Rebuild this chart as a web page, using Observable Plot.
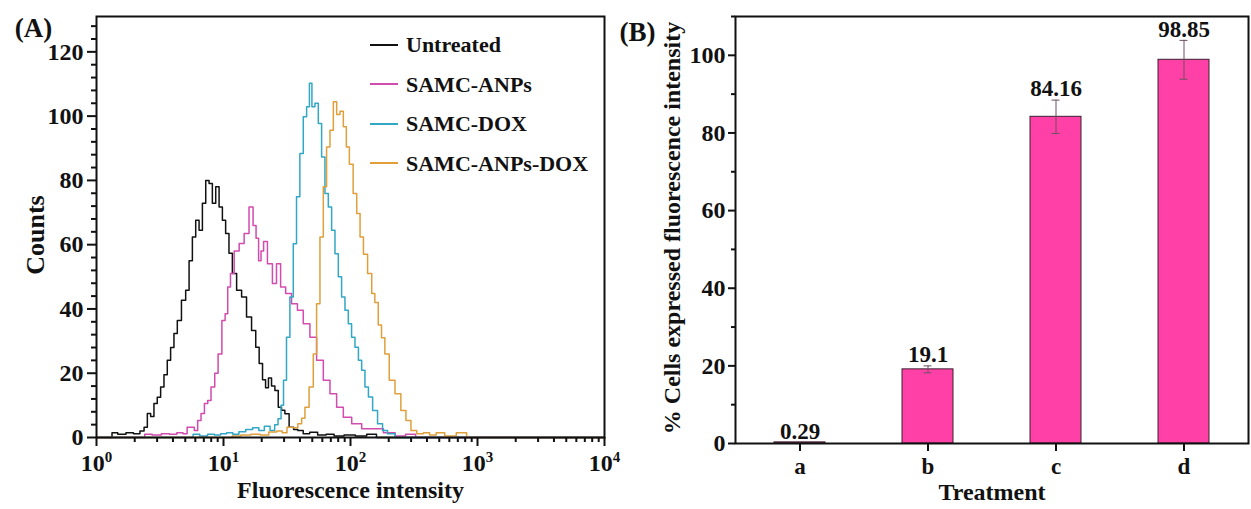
<!DOCTYPE html>
<html>
<head>
<meta charset="utf-8">
<script src="https://cdn.jsdelivr.net/npm/d3@7"></script>
<script src="https://cdn.jsdelivr.net/npm/@observablehq/plot@0.6"></script>
<style>
  body { margin: 0; background: #fff; }
  #wrap { position: relative; width: 1251px; height: 509px; overflow: hidden; background: #fff; font-family: "Liberation Serif", "Times New Roman", serif; font-weight: bold; }
  #wrap > div.p { position: absolute; top: 0; }
  .leg { position: absolute; left: 370px; font-size: 22px; color: #111; line-height: 28px; white-space: nowrap; }
  .leg span.sw { display: inline-block; width: 28px; height: 0; border-top: 2px solid; vertical-align: middle; margin-right: 8px; position: relative; top: -2px; }
</style>
</head>
<body>
<div id="wrap">
  <div class="p" id="pb" style="left:610px"></div>
  <div class="p" id="pa" style="left:0"></div>
</div>
<script>
// ---------- Panel A: flow cytometry histograms ([fluorescence intensity, counts]) ----------
const seriesNames = ["Untreated", "SAMC-ANPs", "SAMC-DOX", "SAMC-ANPs-DOX"];
const seriesColors = ["#111111", "#d24bae", "#32a7c6", "#dfa03c"];

const untreated = [[1,0],[1.3,0],[1.35,1.5],[1.6,1],[1.82,1.5],[2.1,1.2],[2.3,2],[2.44,3.2],[2.59,7.5],[2.75,6.5],[2.92,10.6],[3.1,12.5],[3.3,15.7],[3.5,19.5],[3.72,24],[3.95,28],[4.2,32.4],[4.46,36.4],[4.88,42.7],[5.2,45.8],[5.52,55],[5.86,62.4],[6.23,67.6],[6.62,64.5],[7.03,72.9],[7.47,80],[7.93,79],[8.42,72.9],[8.96,78],[9.51,71.7],[10.1,67.6],[10.7,63.5],[11.4,57.3],[12.1,51],[13.3,45.8],[14.5,43.7],[15.9,37.5],[17.4,33.3],[18.5,28.1],[19.7,23],[20.9,18],[22,15.5],[23.2,18.5],[24.6,16],[26.2,14.6],[27.8,9.4],[29.5,8.5],[31.4,7.4],[34.4,3.2],[37,2.5],[40,2.2],[45,1.2],[50.6,1.6],[60,0.8],[68.9,1],[80,0.5],[99,0.8],[120,0.5],[150,1],[171,0],[10000,0]];

const samcAnps = [[1,0],[2.3,0],[2.5,1],[3,0.8],[3.5,1.2],[4,1],[4.6,1.5],[5,1.2],[5.35,3.2],[5.75,3.2],[6.04,2.2],[6.49,5.3],[6.82,7.5],[7.34,10.6],[7.69,11.5],[8.27,15.7],[8.8,20],[9.34,26],[10.1,36.4],[10.5,38.5],[11.1,46.8],[11.6,51],[12.7,58],[13.9,60.4],[15.2,63.5],[16.6,71.7],[17.6,66],[18.5,62],[19.3,55],[20.2,58],[21.2,61],[23.2,54.1],[25.4,47.9],[26.9,54.1],[29.5,46.8],[32.3,44.8],[36.5,41.6],[40,39.6],[45.1,35.4],[50.9,31.2],[57.5,24],[64.9,17.8],[73.2,13.6],[82.6,9.4],[93.3,6.3],[112,4.3],[134,2.7],[161,2.7],[205,1.5],[246,0.5],[300,1],[353,0],[10000,0]];

const samcDox = [[1,0],[5.5,0],[6.04,1],[7,0.5],[8,1],[9,0.8],[10,1.2],[11.2,1.5],[12.5,1],[14,1.8],[16,2.5],[18,3],[20,2.2],[22,3.5],[24.6,2.2],[26,4],[27.8,5.8],[29,10],[30.4,17.8],[32.3,31.2],[34.4,43.7],[36.5,60.3],[38.7,74.9],[41.2,88.4],[43.8,99.8],[46.5,102.9],[48.5,110.2],[50.9,102.9],[54.1,104],[57.5,97.7],[61,87.3],[64.9,75.9],[68.9,71.7],[73.2,64.5],[77.8,57.2],[82.6,50],[87.7,43.7],[93.3,39.6],[99,35.4],[105,31.2],[112,28.1],[119,24],[126,20.9],[134,15.7],[143,12.6],[156,8.4],[171,4.3],[187,2.2],[205,1.2],[246,0],[10000,0]];

const samcAnpsDox = [[1,0],[11,0],[12.5,0.5],[15,0.8],[18,1],[21,0.8],[24.6,1.7],[28,2],[30,1.5],[33.3,3.2],[37,3],[40,4.3],[42.5,6],[45.1,9.4],[49.4,15.7],[52.5,26],[55.7,41.6],[59.3,62.4],[62.9,78],[66.8,90.4],[71.1,95.6],[75.5,104.5],[80.2,100.5],[85.2,101.5],[90.5,96.7],[95,90.4],[101,85],[109,75.9],[115,69.7],[123,62.4],[130,57],[143,51],[151,44.8],[160,42],[171,35],[180,31],[193,26],[211,17.8],[238,13.6],[261,8.4],[286,5.3],[313,2.2],[353,1.2],[400,1.5],[440,0.8],[508,1.5],[600,0.5],[772,1.5],[873,0],[10000,0]];

const xMajorA = [1, 10, 100, 1000, 10000];
const yMajorA = [0, 20, 40, 60, 80, 100, 120];

// ---------- Panel B: bar chart ----------
const treatments = ["a", "b", "c", "d"];
const percents = [0.29, 19.1, 84.16, 98.85];
const errors = [0, 0.9, 4.3, 5.0];
const barLabels = ["0.29", "19.1", "84.16", "98.85"];
const yMajorB = [0, 20, 40, 60, 80, 100];
const yMinorB = [10, 30, 50, 70, 90, 110];

// ---------- build tables ----------
const allSeries = [untreated, samcAnps, samcDox, samcAnpsDox];
const histRows = allSeries.flatMap((s, i) => s.map(([I, c]) => ({series: seriesNames[i], I, c})));
const xMinorA = xMajorA.slice(0, -1).flatMap(d => d3.range(2, 10).map(k => k * d));
const yMinorA = d3.range(4, 132, 4).filter(v => v % 20 !== 0);
const barRows = treatments.map((t, i) => ({t, v: percents[i], e: errors[i], label: barLabels[i]}));

const font = {fontFamily: "'Liberation Serif', 'Times New Roman', serif", fontWeight: "bold", fontSize: "22px", color: "#111", background: "none", overflow: "visible"};
const lbl = {textAnchor: "middle", lineAnchor: "middle"};

const plotA = Plot.plot({
  width: 620, height: 509,
  marginLeft: 96, marginRight: 16, marginTop: 16, marginBottom: 72,
  style: font,
  x: {type: "log", domain: [1, 10000]},
  y: {domain: [0, 131]},
  color: {domain: seriesNames, range: seriesColors},
  marks: [
    Plot.line(histRows, {x: "I", y: "c", z: "series", stroke: "series", strokeWidth: 1.5, curve: "step"}),
    Plot.axisX({ticks: xMinorA, tickSize: 5, tickFormat: () => "", strokeWidth: 2, label: null}),
    Plot.axisX({ticks: xMajorA, tickSize: 9, tickPadding: 7, tickFormat: d => String(Math.round(Math.log10(d))), strokeWidth: 2, fontSize: 24, label: null}),
    Plot.axisY({ticks: yMinorA, tickSize: 5, tickFormat: () => "", strokeWidth: 2, label: null}),
    Plot.axisY({ticks: yMajorA, tickSize: 9, tickPadding: 4, strokeWidth: 2, fontSize: 24, label: null}),
    Plot.frame({stroke: "#111", strokeWidth: 2}),
    Plot.text(["Fluorescence intensity"], {...lbl, frameAnchor: "bottom", text: d => d, dy: 53, fontSize: 24}),
    Plot.text(["Counts"], {...lbl, frameAnchor: "left", text: d => d, rotate: -90, dx: -61, dy: 8, fontSize: 26}),
    Plot.text(["(A)"], {...lbl, frameAnchor: "top-left", text: d => d, dx: -63, dy: 12, fontSize: 27})
  ]
});
document.getElementById("pa").append(plotA);

// superscript exponents on the log axis
plotA.querySelectorAll('[aria-label="x-axis tick label"] text').forEach(t => {
  const e = t.textContent;
  if (!e) return;
  t.textContent = "";
  const base = document.createElementNS("http://www.w3.org/2000/svg", "tspan");
  base.textContent = "10";
  const sup = document.createElementNS("http://www.w3.org/2000/svg", "tspan");
  sup.textContent = e;
  sup.setAttribute("dy", "-0.55em");
  sup.setAttribute("font-size", "15px");
  t.append(base, sup);
});

// legend
const wrap = document.getElementById("wrap");
seriesNames.forEach((n, i) => {
  const d = document.createElement("div");
  d.className = "leg";
  d.style.top = (31 + i * 39.5) + "px";
  d.innerHTML = `<span class="sw" style="border-color:${seriesColors[i]}"></span>${n}`;
  wrap.append(d);
});

const plotB = Plot.plot({
  width: 641, height: 509,
  marginLeft: 125, marginRight: 3, marginTop: 16, marginBottom: 66,
  style: font,
  x: {domain: treatments, paddingInner: 0.6, paddingOuter: 0.3},
  y: {domain: [0, 110]},
  marks: [
    Plot.barY(barRows, {x: "t", y: "v", fill: "#ff40a6", stroke: "#3a2030", strokeWidth: 1}),
    Plot.ruleX(barRows.filter(d => d.e > 0), {x: "t", y1: d => d.v - d.e, y2: d => d.v + d.e, stroke: "#6a5060", strokeWidth: 1}),
    Plot.tickY(barRows.filter(d => d.e > 0), {x: "t", y: d => d.v - d.e, stroke: "#6a5060", strokeWidth: 1, insetLeft: 21.5, insetRight: 21.5}),
    Plot.tickY(barRows.filter(d => d.e > 0), {x: "t", y: d => d.v + d.e, stroke: "#6a5060", strokeWidth: 1, insetLeft: 21.5, insetRight: 21.5}),
    Plot.text(barRows, {x: "t", y: d => d.v + d.e, text: "label", dy: -11, fontSize: 23}),
    Plot.axisX({tickSize: 8, tickPadding: 6, strokeWidth: 2, fontSize: 23, label: null}),
    Plot.axisY({ticks: yMinorB, tickSize: 4, tickFormat: () => "", strokeWidth: 2, label: null}),
    Plot.axisY({ticks: yMajorB, tickSize: 7, tickPadding: 3, strokeWidth: 2, fontSize: 24, label: null}),
    Plot.frame({stroke: "#111", strokeWidth: 2}),
    Plot.text(["Treatment"], {...lbl, frameAnchor: "bottom", text: d => d, dy: 49, fontSize: 24}),
    Plot.text(["% Cells expressed fluorescence intensity"], {...lbl, frameAnchor: "left", text: d => d, rotate: -90, dx: -63, dy: -2, fontSize: 24}),
    Plot.text(["(B)"], {...lbl, frameAnchor: "top-left", text: d => d, dx: -98, dy: 16, fontSize: 27})
  ]
});
document.getElementById("pb").append(plotB);
</script>
</body>
</html>
